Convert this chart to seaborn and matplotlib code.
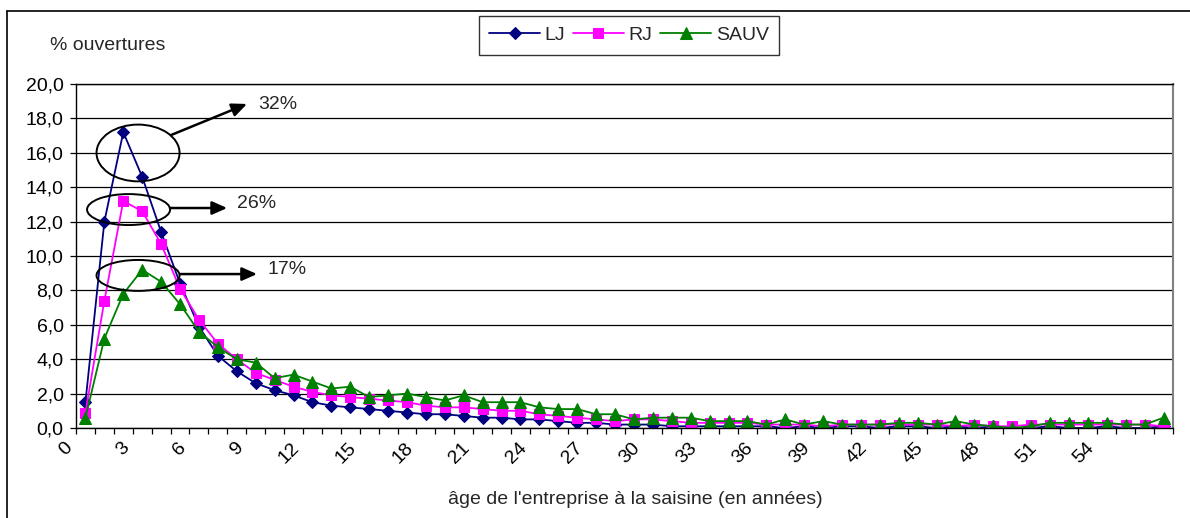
import numpy as np
import pandas as pd
import matplotlib
matplotlib.use("Agg")
import matplotlib.pyplot as plt
from matplotlib.patches import Ellipse
from matplotlib.lines import Line2D
import seaborn as sns

# Share of openings (%) by age of the company at the time of the filing (years)
ages = list(range(58))
lj = [1.5, 12.0, 17.2, 14.6, 11.4, 8.4, 5.9, 4.2, 3.3, 2.6,
      2.2, 1.9, 1.5, 1.3, 1.2, 1.1, 1.0, 0.9, 0.8, 0.8,
      0.7, 0.6, 0.6, 0.5, 0.5, 0.4, 0.3, 0.3, 0.2, 0.2,
      0.2, 0.1, 0.1, 0.1, 0.1, 0.1, 0.1, 0.0, 0.1, 0.0,
      0.1, 0.1, 0.0, 0.1, 0.1, 0.0, 0.1, 0.0, 0.1, 0.0,
      0.0, 0.1, 0.0, 0.0, 0.1, 0.0, 0.0, 0.1]
rj = [0.9, 7.4, 13.2, 12.6, 10.7, 8.1, 6.3, 4.9, 4.0, 3.2,
      2.8, 2.4, 2.1, 1.9, 1.8, 1.7, 1.6, 1.5, 1.3, 1.2,
      1.2, 1.1, 1.0, 1.0, 0.8, 0.7, 0.6, 0.5, 0.4, 0.5,
      0.5, 0.4, 0.3, 0.3, 0.3, 0.3, 0.2, 0.2, 0.2, 0.1,
      0.2, 0.2, 0.2, 0.2, 0.2, 0.2, 0.1, 0.2, 0.1, 0.1,
      0.2, 0.2, 0.2, 0.2, 0.2, 0.2, 0.2, 0.1]
sauv = [0.6, 5.2, 7.8, 9.2, 8.5, 7.2, 5.6, 4.7, 4.0, 3.8,
        2.9, 3.1, 2.7, 2.3, 2.4, 1.8, 1.9, 2.0, 1.8, 1.6,
        1.9, 1.5, 1.5, 1.5, 1.2, 1.1, 1.1, 0.8, 0.8, 0.5,
        0.6, 0.6, 0.6, 0.4, 0.4, 0.4, 0.2, 0.5, 0.2, 0.4,
        0.2, 0.2, 0.2, 0.3, 0.3, 0.2, 0.4, 0.2, 0.1, 0.0,
        0.1, 0.3, 0.3, 0.3, 0.3, 0.2, 0.2, 0.6]
series_names = ["LJ", "RJ", "SAUV"]
x_labels = [str(a) for a in range(0, 55, 3)]
y_ticks = list(range(0, 21, 2))
callouts = ["32%", "26%", "17%"]

sns.set_style("white")
plt.rcParams["font.family"] = ["Liberation Sans", "DejaVu Sans"]

W, H = 1190, 518
FS = 14
fig = plt.figure(figsize=(W / 100, H / 100), dpi=100)
fig.patch.set_facecolor("white")
ax = fig.add_axes([76 / W, 1 - 428 / H, 1097 / W, 344 / H])

styles = {
    "LJ": dict(color="#000080", marker="D", markersize=6.5),
    "RJ": dict(color="#FF00FF", marker="s", markersize=6.5),
    "SAUV": dict(color="#008000", marker="^", markersize=8.5),
}
for name, vals in zip(series_names, [lj, rj, sauv]):
    st = styles[name]
    sns.lineplot(x=ages, y=vals, ax=ax, color=st["color"], marker=st["marker"],
                 markersize=st["markersize"], markeredgecolor=st["color"],
                 markerfacecolor=st["color"], linewidth=1.3, label=name,
                 estimator=None, sort=False)

ax.set_xlim(-0.5, len(ages) - 0.5)
ax.set_ylim(0, 20)
ax.set_yticks(y_ticks)
ax.set_yticklabels([f"{v:.1f}".replace(".", ",") for v in y_ticks])
ax.yaxis.grid(True, color="black", linewidth=0.9)
ax.xaxis.grid(False)
ax.set_axisbelow(True)

ax.set_xticks([int(l) - 0.5 for l in x_labels])
ax.set_xticklabels(x_labels, rotation=45, ha="right")
ax.set_xticks(np.arange(-0.5, len(ages), 1.0), minor=True)
ax.tick_params(axis="x", which="both", direction="out", length=4, width=0.9,
               colors="black", labelsize=FS, pad=4, bottom=True)
ax.tick_params(axis="y", direction="out", length=4, width=0.9, colors="black",
               labelsize=FS, pad=5, left=True)
ax.set_xlabel("")
ax.set_ylabel("")

for side in ["left", "bottom", "top"]:
    ax.spines[side].set_color("black")
    ax.spines[side].set_linewidth(1.0)
ax.spines["right"].set_color("#808080")
ax.spines["right"].set_linewidth(1.5)

# callout ellipses around the two peak years of each procedure
ellipses = [((2.78, 15.99), 4.39, 3.3), ((2.28, 12.7), 4.39, 1.8), ((2.78, 8.87), 4.39, 1.8)]
arrows = [((4.52, 17.03), (8.54, 18.84)), ((4.47, 12.79), (7.49, 12.79)), ((5.0, 8.95), (9.07, 8.95))]
text_pos = [(9.12, 18.8), (8.0, 13.05), (9.65, 9.2)]
for (c, w, h), (p0, p1), tp, txt in zip(ellipses, arrows, text_pos, callouts):
    ax.add_patch(Ellipse(c, w, h, fill=False, edgecolor="black", linewidth=1.4, zorder=5))
    ax.annotate("", xy=p1, xytext=p0,
                arrowprops=dict(arrowstyle="-|>,head_length=0.9,head_width=0.4",
                                color="black", linewidth=1.8, shrinkA=0, shrinkB=0),
                zorder=5)
    ax.text(tp[0], tp[1], txt, fontsize=FS, ha="left", va="center", zorder=6)

handles, labels = ax.get_legend_handles_labels()
ax.get_legend().remove()
leg = fig.legend(handles, labels, loc="center", bbox_to_anchor=(629 / W, 1 - 35 / H),
                 ncol=3, frameon=True, fancybox=False, edgecolor="black", fontsize=FS,
                 handlelength=2.6, handletextpad=0.25, columnspacing=0.4, borderpad=0.55,
                 borderaxespad=0)
leg.get_frame().set_linewidth(1.0)

fig.text(50 / W, 1 - 46 / H, "% ouvertures", fontsize=FS, ha="left", va="center")
fig.text(635 / W, 1 - 499 / H, "âge de l'entreprise à la saisine (en années)",
         fontsize=FS, ha="center", va="center")

# outer chart border
fig.add_artist(Line2D([7 / W, 7 / W], [0, 1 - 11 / H], color="black", linewidth=1.2,
                      transform=fig.transFigure))
fig.add_artist(Line2D([7 / W, 1], [1 - 11 / H, 1 - 11 / H], color="black", linewidth=1.2,
                      transform=fig.transFigure))

fig.savefig("out.png", dpi=100, facecolor="white")
